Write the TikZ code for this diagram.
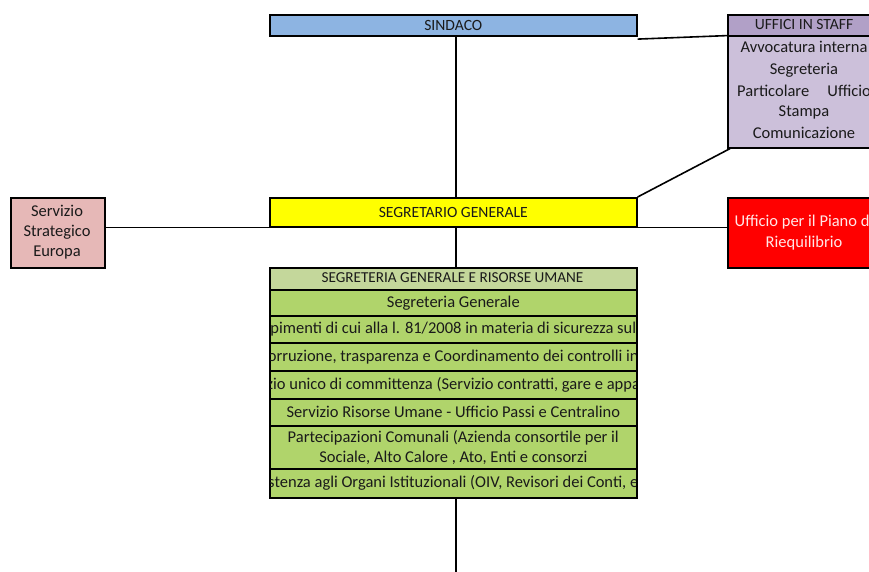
\documentclass[tikz,border=0pt]{standalone}
\usepackage{fontspec}
\setmainfont{Carlito}
\usetikzlibrary{calc}
\definecolor{cblue}{HTML}{8DB4E2}
\definecolor{cstaffh}{HTML}{B1A0C7}
\definecolor{cstaffb}{HTML}{CCC0DA}
\definecolor{cyel}{HTML}{FFFF00}
\definecolor{cpink}{HTML}{E6B8B7}
\definecolor{cred}{HTML}{FF0000}
\definecolor{cgreenh}{HTML}{C4D79B}
\definecolor{cgreen}{HTML}{B0D46B}
\definecolor{ctxt}{HTML}{1A1A1A}
\definecolor{cwtxt}{HTML}{FFE8E8}
\begin{document}
\begin{tikzpicture}[x=1pt,y=-1pt,
  box/.style={draw=black, line width=1.6pt, inner sep=0pt, anchor=north west, font=\fontsize{15.6}{18}\selectfont, text=ctxt},
  conn/.style={draw=black, line width=1.6pt},
  txt/.style={inner sep=0pt, font=\fontsize{16.5}{19}\selectfont, text=ctxt},
  captxt/.style={inner sep=0pt, font=\fontsize{15.6}{18}\selectfont, text=ctxt}]
\useasboundingbox (0,0) rectangle (869,572);
\clip (0,0) rectangle (869,572);
% boxes
\node[box, fill=cblue, minimum width=367pt, minimum height=21pt] (sindaco) at (269,14) {SINDACO};
\node[box, fill=cstaffh, minimum width=154pt, minimum height=21pt] (staffh) at (727,14) {};
\node[captxt] (staffht) at (804,24.5) {UFFICI IN STAFF};
\node[box, fill=cstaffb, minimum width=154pt, minimum height=112pt] (staffb) at (727,35) {};
\node[txt] (s1) at (804,47) {Avvocatura interna};
\node[txt] (s2) at (804,70) {Segreteria};
\node[txt, anchor=west] (s3a) at (737,91) {Particolare};
\node[txt, anchor=east] (s3b) at (871,91) {Ufficio};
\node[txt] (s4) at (804,112) {Stampa};
\node[txt] (s5) at (804,133) {Comunicazione};
\node[box, fill=cyel, minimum width=367pt, minimum height=29pt] (segr) at (269,197) {SEGRETARIO GENERALE};
\node[box, fill=cpink, minimum width=94pt, minimum height=70pt] (serv) at (10,197) {};
\node[txt] (serv1) at (57,211) {Servizio};
\node[txt] (serv2) at (57,232) {Strategico};
\node[txt] (serv3) at (57,253) {Europa};
\node[box, fill=cred, minimum width=154pt, minimum height=70pt] (uff) at (727,197) {};
\node[txt, text=cwtxt] (uff1) at (804,222) {Ufficio per il Piano di};
\node[txt, text=cwtxt] (uff2) at (804,243) {Riequilibrio};
% table
\node[box, fill=cgreenh, minimum width=367pt, minimum height=22pt] (th) at (269,267) {};
\node[captxt, font=\fontsize{15.2}{18}\selectfont] (tht) at (452.5,278) {SEGRETERIA GENERALE E RISORSE UMANE};
\node[box, fill=cgreen, minimum width=367pt, minimum height=26pt] (r1) at (269,289) {};
\node[box, fill=cgreen, minimum width=367pt, minimum height=27pt] (r2) at (269,315) {};
\node[box, fill=cgreen, minimum width=367pt, minimum height=28pt] (r3) at (269,342) {};
\node[box, fill=cgreen, minimum width=367pt, minimum height=28pt] (r4) at (269,370) {};
\node[box, fill=cgreen, minimum width=367pt, minimum height=27pt] (r5) at (269,398) {};
\node[box, fill=cgreen, minimum width=367pt, minimum height=43pt] (r6) at (269,425) {};
\node[box, fill=cgreen, minimum width=367pt, minimum height=29pt] (r7) at (269,468) {};
\begin{scope}
\clip (270,268) rectangle (635,496);
\node[txt] (t1) at (r1.center) {Segreteria Generale};
\node[txt] (t2) at (r2.center) {pimenti di cui alla l. 81/2008 in materia di sicurezza sul};
\node[txt] (t3) at (r3.center) {orruzione, trasparenza e Coordinamento dei controlli in};
\node[txt] (t4) at (r4.center) {zio unico di committenza (Servizio contratti, gare e appa};
\node[txt] (t5) at (r5.center) {Servizio Risorse Umane - Ufficio Passi e Centralino};
\node[txt] (t6a) at ($(r6.center)+(0,-10)$) {Partecipazioni Comunali (Azienda consortile per il};
\node[txt] (t6b) at ($(r6.center)+(0,11)$) {Sociale, Alto Calore , Ato, Enti e consorzi};
\node[txt] (t7) at (r7.center) {stenza agli Organi Istituzionali (OIV, Revisori dei Conti, e};
\end{scope}
% connectors
\coordinate (trunk) at (456,0);
\coordinate (bot) at (456,572);
\draw[conn] (sindaco.south -| trunk) -- (segr.north -| trunk);
\draw[conn] ($(sindaco.south east)+(0,2.5)$) -- ($(staffh.south west)+(0,-1)$);
\draw[conn] (segr.north east) -- ($(staffb.south west)+(3,0)$);
\draw[conn] (serv.east |- segr.south) -- (segr.south west);
\draw[conn] (segr.south east) -- (uff.west |- segr.south);
\draw[conn] (segr.south -| trunk) -- (th.north -| trunk);
\draw[conn] (r7.south -| trunk) -- (bot);
\end{tikzpicture}
\end{document}
